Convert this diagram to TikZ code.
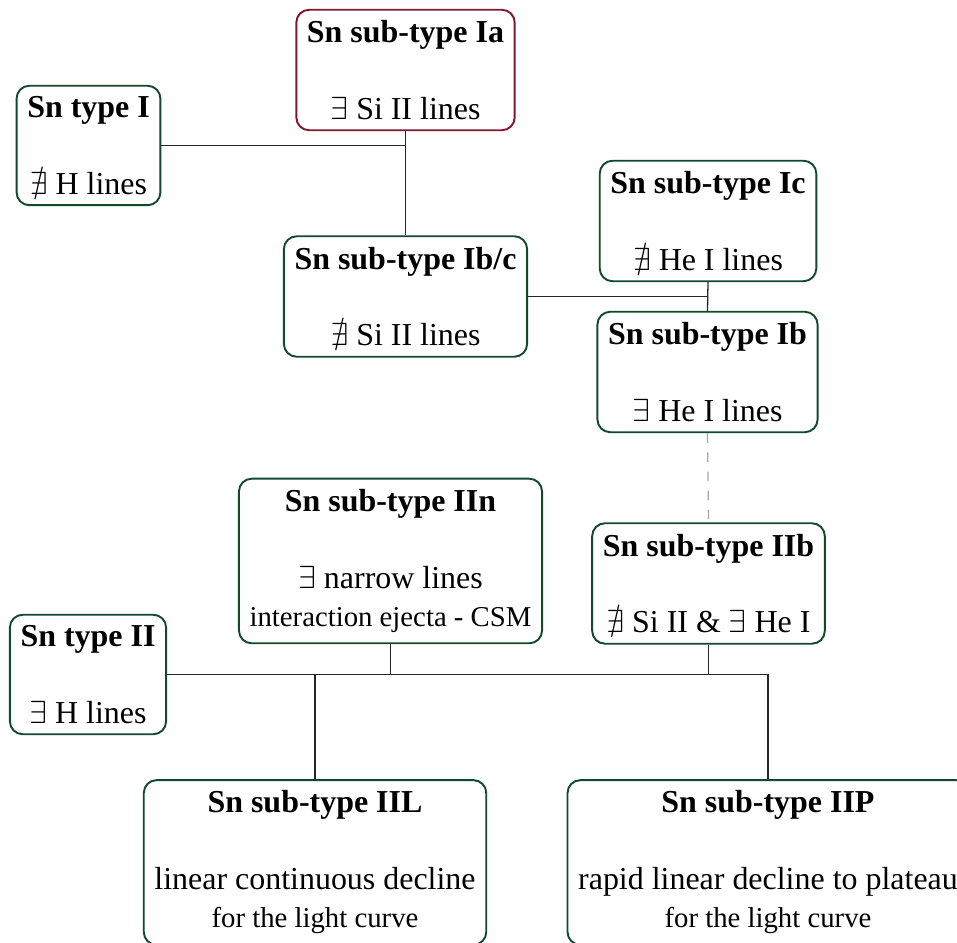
\documentclass[tikz,border=0pt]{standalone}
\usepackage{amsmath,amssymb}
\usepackage{fontspec}
\setmainfont{Liberation Serif}
\usetikzlibrary{positioning,calc}

\definecolor{boxgreen}{RGB}{18,72,44}
\definecolor{boxred}{RGB}{130,22,44}

\begin{document}
\begin{tikzpicture}[
  x=0.011cm, y=-0.011cm,
  sn/.style={draw=boxgreen, line width=0.6pt, rounded corners=4pt, align=center, font=\normalsize},
  snred/.style={sn, draw=boxred},
  link/.style={black!85, line width=0.4pt},
  dashlink/.style={black!35, line width=0.4pt, dashed}
]
  \useasboundingbox (0,0) rectangle (957,943);

  % --- type I branch ---
  \node[sn]    (typeI) at (88.5,145.5) {\textbf{Sn type I}\\[12pt] $\nexists$ H lines};
  \node[snred] (Ia)    at (405.5,70)   {\textbf{Sn sub-type Ia}\\[12pt] $\exists$ Si II lines};
  \node[sn]    (Ibc)   at (405.5,296.5){\textbf{Sn sub-type Ib/c}\\[12pt] $\nexists$ Si II lines};
  \node[sn]    (Ic)    at (708,221)    {\textbf{Sn sub-type Ic}\\[12pt] $\nexists$ He I lines};
  \node[sn]    (Ib)    at (707.5,372)  {\textbf{Sn sub-type Ib}\\[12pt] $\exists$ He I lines};

  \draw[link] (Ia.south) -- (Ibc.north);
  \draw[link] (typeI.east) -- (typeI.east -| Ia.south);
  \draw[link] (Ic.south) -- (Ib.north);
  \draw[link] (Ibc.east) -- (Ibc.east -| Ic.south);

  % --- type II branch ---
  \node[sn] (IIn)    at (390.5,561)   {\textbf{Sn sub-type IIn}\\[12pt] $\exists$ narrow lines\\ {\small interaction ejecta - CSM}};
  \node[sn] (IIb)    at (708.5,583.5) {\textbf{Sn sub-type IIb}\\[12pt] $\nexists$ Si II \& $\exists$ He I};
  \node[sn] (typeII) at (88,674.5)    {\textbf{Sn type II}\\[12pt] $\exists$ H lines};
  \node[sn] (IIL)    at (315,862.5)   {\textbf{Sn sub-type IIL}\\[12pt] linear continuous decline\\ {\small for the light curve}};
  \node[sn] (IIP)    at (768,862.5)   {\textbf{Sn sub-type IIP}\\[12pt] rapid linear decline to plateau\\ {\small for the light curve}};

  \draw[dashlink] (Ib.south) -- (IIb.north);
  \draw[link] (typeII.east) -- (typeII.east -| IIP.north);
  \draw[link] (IIn.south) -- (IIn.south |- typeII.east);
  \draw[link] (IIb.south) -- (IIb.south |- typeII.east);
  \draw[link] (IIL.north) -- (IIL.north |- typeII.east);
  \draw[link] (IIP.north) -- (IIP.north |- typeII.east);

\end{tikzpicture}
\end{document}
